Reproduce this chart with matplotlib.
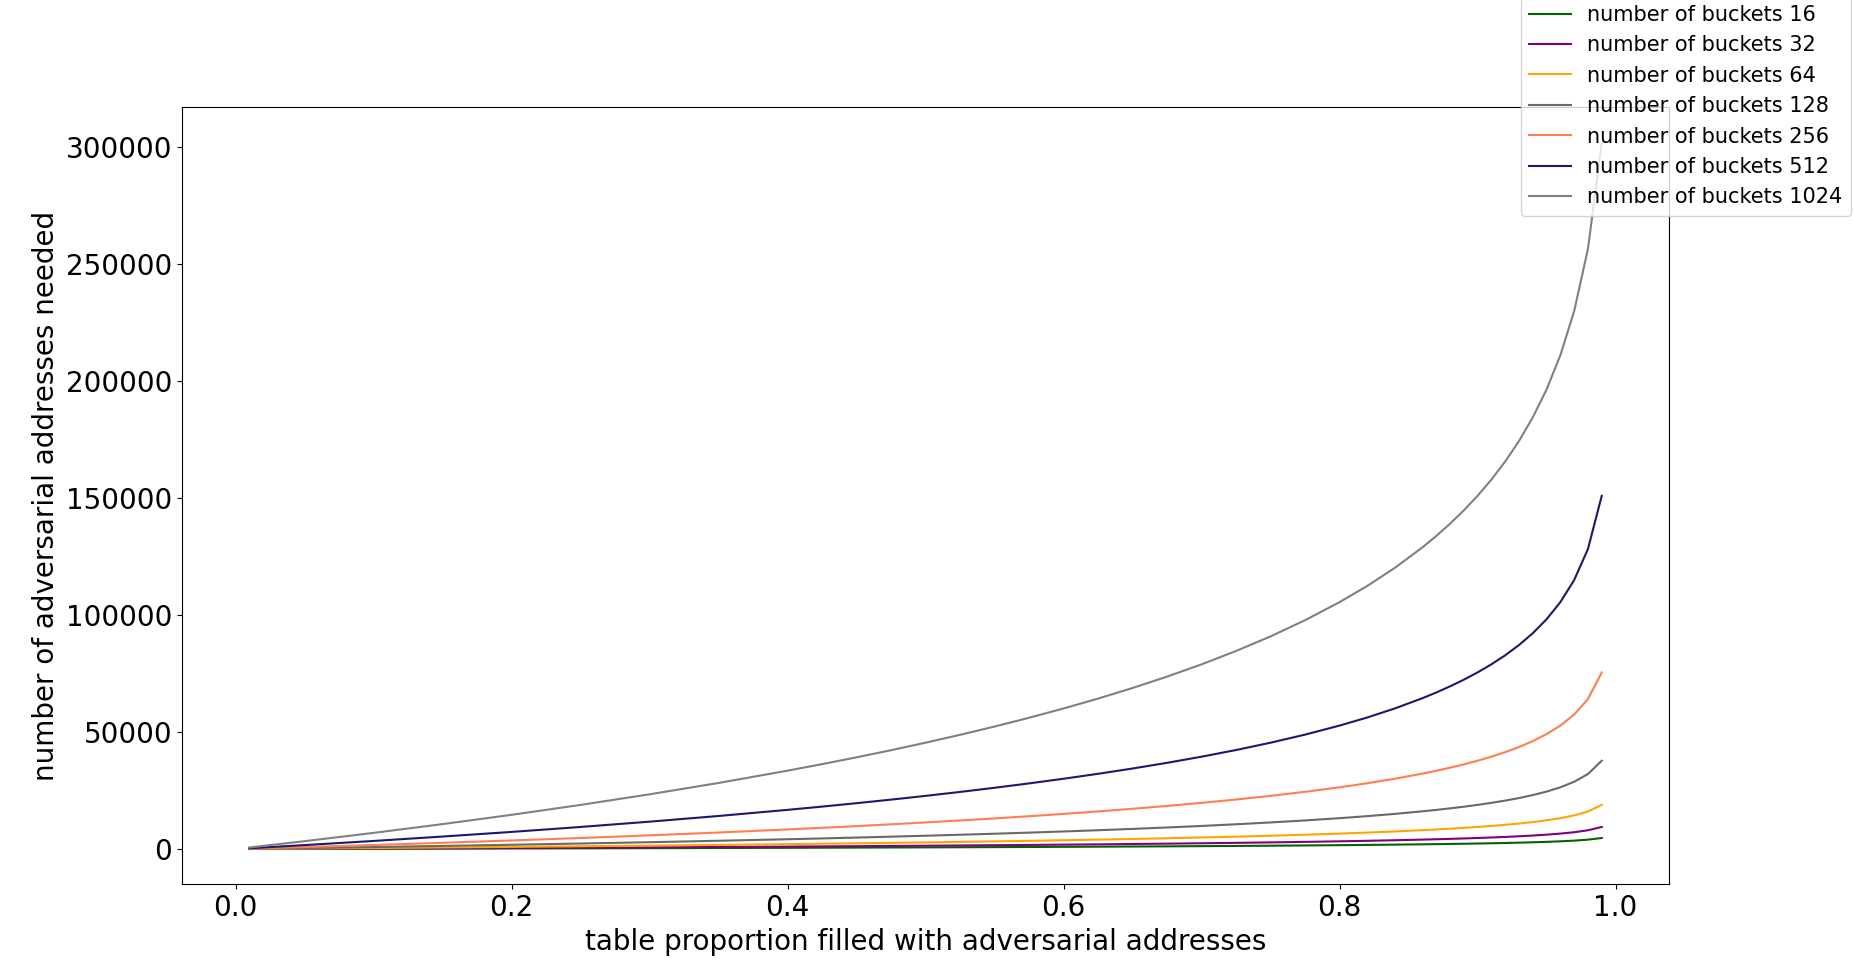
import matplotlib
matplotlib.use("Agg")
import matplotlib.pyplot as plt

proportion = [0.01, 0.05, 0.10, 0.15, 0.20, 0.25, 0.30, 0.35, 0.40, 0.425, 0.45,
              0.475, 0.50, 0.525, 0.55, 0.575, 0.60, 0.625, 0.65, 0.675, 0.70,
              0.725, 0.75, 0.775, 0.80, 0.82, 0.84, 0.86, 0.87, 0.88, 0.89, 0.90,
              0.91, 0.92, 0.93, 0.94, 0.95, 0.96, 0.97, 0.98, 0.99]

buckets_16 = [10, 53, 108, 166, 229, 295, 365, 441, 523, 567, 612, 660, 710, 762,
              818, 876, 938, 1004, 1075, 1151, 1233, 1322, 1420, 1527, 1648, 1756,
              1877, 2013, 2089, 2171, 2260, 2358, 2466, 2586, 2723, 2881, 3068, 3296,
              3591, 4006, 4715]
buckets_32 = [21, 105, 216, 333, 457, 589, 730, 882, 1046, 1133, 1224, 1320, 1420,
              1525, 1635, 1752, 1877, 2009, 2150, 2302, 2466, 2644, 2839, 3055, 3296,
              3512, 3753, 4027, 4178, 4342, 4521, 4716, 4931, 5173, 5446, 5762, 6135,
              6592, 7181, 8012, 9431]
buckets_64 = [41, 210, 430, 670, 910, 1180, 1460, 1760, 2090, 2270, 2450, 2640, 2840,
              3050, 3270, 3500, 3750, 4020, 4300, 4600, 4930, 5290, 5680, 6110, 6590,
              7020, 7510, 8050, 8360, 8680, 9040, 9430, 9860, 10350, 10890, 11520,
              12270, 13180, 14360, 16020, 18860]
buckets_128 = [82, 420, 860, 1330, 1830, 2360, 2920, 3530, 4180, 4530, 4900, 5280,
               5680, 6100, 6540, 7010, 7510, 8030, 8600, 9210, 9860, 10580, 11360,
               12220, 13180, 14050, 15010, 16110, 16710, 17370, 18080, 18860, 19730,
               20690, 21780, 23050, 24540, 26370, 28730, 32050, 37730]
buckets_256 = [165, 840, 1730, 2660, 3660, 4710, 5840, 7060, 8370, 9070, 9790, 10560,
               11360, 12200, 13080, 14020, 15010, 16070, 17200, 18410, 19730, 21150,
               22710, 24440, 26370, 28100, 30030, 32210, 33430, 34740, 36160, 37730,
               39450, 41380, 43570, 46100, 49080, 52740, 57450, 64090, 75450]
buckets_512 = [330, 1680, 3450, 5330, 7310, 9430, 11690, 14120, 16740, 18130, 19590,
               21110, 22710, 24390, 26170, 28040, 30030, 32140, 34400, 36830, 39450,
               42300, 45430, 48880, 52740, 56190, 60050, 64430, 66850, 69480, 72330,
               75450, 78900, 82760, 87140, 92190, 98160, 105480, 114900, 128190, 150900]
buckets_1024 = [660, 3360, 6900, 10650, 14620, 18850, 23380, 28230, 33480, 36270,
                39180, 42230, 45430, 48790, 52330, 56080, 60050, 64280, 68800, 73660,
                78900, 84610, 90850, 97760, 105480, 112380, 120100, 128850, 133710,
                138950, 144660, 150900, 157810, 165530, 174280, 184380, 196330,
                210950, 229810, 256380, 301800]

labels = ["number of buckets 16", "number of buckets 32", "number of buckets 64",
          "number of buckets 128", "number of buckets 256", "number of buckets 512",
          "number of buckets 1024"]
series = [buckets_16, buckets_32, buckets_64, buckets_128, buckets_256,
          buckets_512, buckets_1024]
colors = ["darkgreen", "purple", "orange", "dimgray", "coral", "midnightblue", "gray"]

fig = plt.figure(figsize=(18.53, 9.65), dpi=100)
ax = fig.add_axes([0.0981, 0.0836, 0.9009 - 0.0981, 0.8888 - 0.0836])

for ys, lab, col in zip(series, labels, colors):
    ax.plot(proportion, ys, color=col, label=lab, linewidth=1.5)

ax.set_xlabel("table proportion filled with adversarial addresses", fontsize=20)
ax.set_ylabel("number of adversarial addresses needed", fontsize=20)
ax.tick_params(axis="both", labelsize=20)

ax.legend(loc="lower right", bbox_to_anchor=(0.9989, 0.7765),
          bbox_transform=fig.transFigure, fontsize=15, borderaxespad=0)

fig.savefig("out.png", dpi=100)
